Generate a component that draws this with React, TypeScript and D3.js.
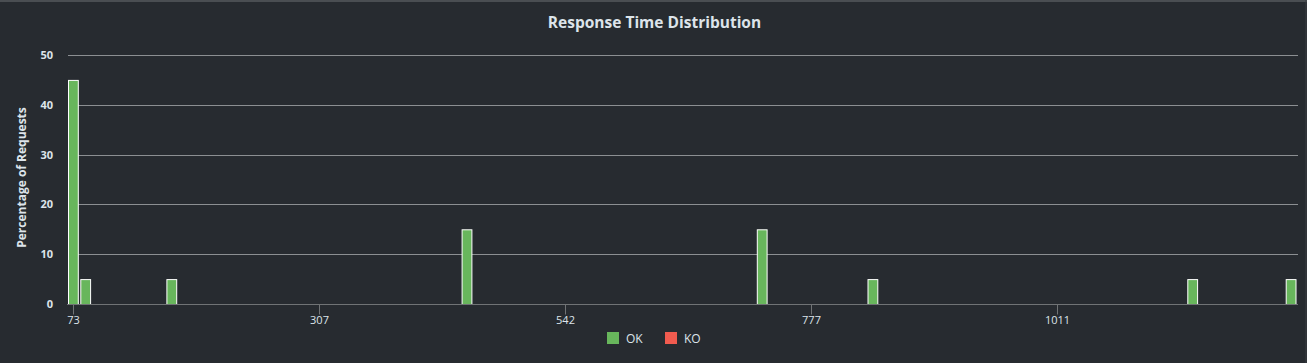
import React, { useEffect, useRef } from 'react';
import * as d3 from 'd3';

// response-time bins (index into 100 buckets), percentage of requests
const binCount = 100;
const okBins = [0, 1, 8, 32, 56, 65, 91, 99];
const okPct = [45, 5, 5, 15, 15, 5, 5, 5];
const koBins: number[] = [];
const koPct: number[] = [];
const tickBins = [0, 20, 40, 60, 80];
const tickLabels = ['73', '307', '542', '777', '1011'];
const yTicks = [0, 10, 20, 30, 40, 50];

const W = 1307;
const H = 363;
const margin = { top: 55, right: 10, bottom: 59, left: 67 };

export default function App() {
  const ref = useRef<SVGSVGElement>(null);

  useEffect(() => {
    const svg = d3.select(ref.current);
    svg.selectAll('*').remove();

    const font = "'Open Sans', 'DejaVu Sans', sans-serif";
    const textColor = '#dde4ea';

    svg.append('rect').attr('width', W).attr('height', H).attr('fill', '#272b30');
    svg.append('line').attr('x1', 0).attr('x2', W).attr('y1', 1).attr('y2', 1)
      .attr('stroke', '#4a4e52').attr('stroke-width', 2);
    svg.append('line').attr('x1', W - 1).attr('x2', W - 1).attr('y1', 0).attr('y2', H)
      .attr('stroke', '#3a3e42').attr('stroke-width', 1);

    const x = d3.scaleBand<number>()
      .domain(d3.range(binCount))
      .range([margin.left, W - margin.right]);
    const y = d3.scaleLinear().domain([0, 50]).range([H - margin.bottom, margin.top]);

    // title
    svg.append('text')
      .attr('x', W / 2 + 1).attr('y', 28)
      .attr('text-anchor', 'middle')
      .attr('font-family', font).attr('font-weight', 'bold').attr('font-size', 15.5)
      .attr('fill', textColor)
      .text('Response Time Distribution');

    // grid
    svg.append('g').selectAll('line')
      .data(yTicks.filter(t => t > 0))
      .enter().append('line')
      .attr('x1', margin.left + 1).attr('x2', W - margin.right + 1)
      .attr('y1', d => Math.round(y(d)) + 0.5).attr('y2', d => Math.round(y(d)) + 0.5)
      .attr('stroke', '#8c8f92').attr('stroke-width', 1);

    // y labels
    svg.append('g').selectAll('text')
      .data(yTicks)
      .enter().append('text')
      .attr('x', 53).attr('y', d => y(d) + 4)
      .attr('text-anchor', 'end')
      .attr('font-family', font).attr('font-weight', 'bold').attr('font-size', 11)
      .attr('fill', textColor)
      .text(d => d);

    svg.append('text')
      .attr('transform', `translate(26,${(margin.top + H - margin.bottom) / 2 - 2}) rotate(-90)`)
      .attr('text-anchor', 'middle')
      .attr('font-family', font).attr('font-weight', 'bold').attr('font-size', 12)
      .attr('fill', textColor)
      .text('Percentage of Requests');

    // bars
    const drawBars = (bins: number[], pct: number[], color: string) => {
      svg.append('g').selectAll('rect')
        .data(bins.map((b, i) => ({ b, v: pct[i] })))
        .enter().append('rect')
        .attr('x', d => (x(d.b) as number) + 1.5)
        .attr('width', x.bandwidth() - 2.5)
        .attr('y', d => y(d.v) + 0.5)
        .attr('height', d => y(0) - y(d.v))
        .attr('fill', color)
        .attr('stroke', '#ffffff').attr('stroke-width', 1);
    };
    drawBars(okBins, okPct, '#68b65c');
    drawBars(koBins, koPct, '#f15b4f');

    // x axis
    const y0 = Math.round(y(0)) + 0.5;
    svg.append('line')
      .attr('x1', margin.left).attr('x2', W - margin.right + 1)
      .attr('y1', y0).attr('y2', y0)
      .attr('stroke', '#707375').attr('stroke-width', 1);

    const xt = svg.append('g').selectAll('g')
      .data(tickBins.map((b, i) => ({ b, label: tickLabels[i] })))
      .enter().append('g')
      .attr('transform', d => `translate(${Math.round((x(d.b) as number) + x.bandwidth() / 2) + 0.5},0)`);
    xt.append('line').attr('y1', y0).attr('y2', y0 + 10)
      .attr('stroke', '#707375').attr('stroke-width', 1);
    xt.append('text')
      .attr('y', y0 + 19)
      .attr('text-anchor', 'middle')
      .attr('font-family', font).attr('font-size', 11)
      .attr('fill', textColor)
      .text(d => d.label);

    // legend
    const legend = [
      { name: 'OK', color: '#68b65c', x: 607 },
      { name: 'KO', color: '#f15b4f', x: 665 },
    ];
    const lg = svg.append('g').selectAll('g')
      .data(legend).enter().append('g')
      .attr('transform', d => `translate(${d.x},332)`);
    lg.append('rect').attr('width', 12).attr('height', 12).attr('fill', d => d.color);
    lg.append('text')
      .attr('x', 19).attr('y', 11)
      .attr('font-family', font).attr('font-size', 12)
      .attr('fill', textColor)
      .text(d => d.name);
  }, []);

  return (
    <div style={{ position: 'absolute', left: 0, top: 0 }}>
      <svg ref={ref} width={W} height={H} style={{ display: 'block' }} />
    </div>
  );
}
